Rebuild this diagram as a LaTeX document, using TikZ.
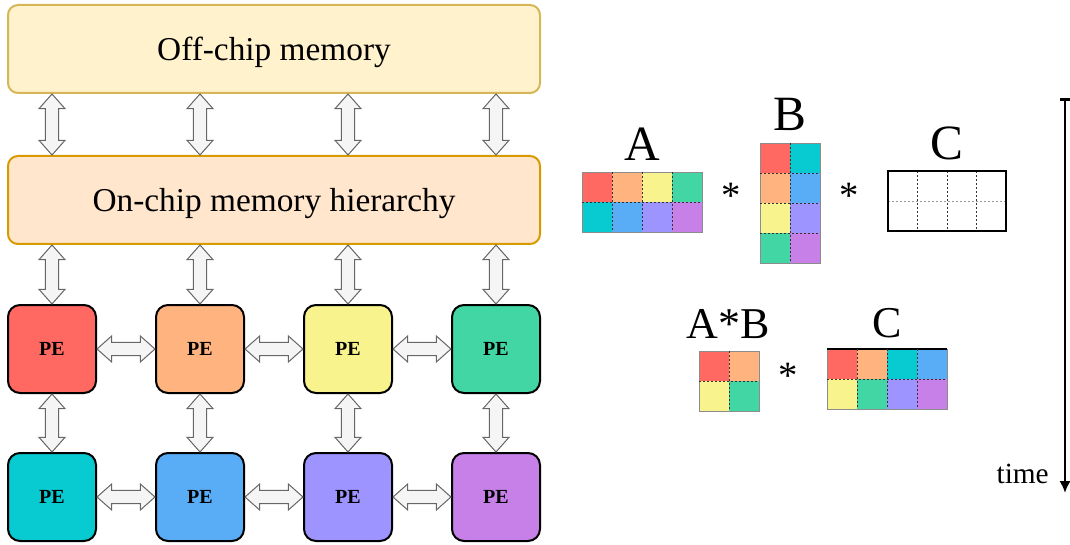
\documentclass[tikz,border=0pt]{standalone}
\usepackage{fontspec}
\setmainfont{Liberation Serif}
\usetikzlibrary{arrows.meta,calc}

% pastel palette for the processing elements and matrix tiles
\definecolor{pred}{HTML}{FF6961}
\definecolor{porange}{HTML}{FFB480}
\definecolor{pyellow}{HTML}{F8F38D}
\definecolor{pgreen}{HTML}{42D6A4}
\definecolor{pcyan}{HTML}{08CAD1}
\definecolor{pblue}{HTML}{59ADF6}
\definecolor{plavender}{HTML}{9D94FF}
\definecolor{ppurple}{HTML}{C780E8}
\definecolor{offfill}{HTML}{FFF2CC}
\definecolor{offdraw}{HTML}{D6B656}
\definecolor{onfill}{HTML}{FFE6CC}
\definecolor{ondraw}{HTML}{D79B00}
\definecolor{linkfill}{HTML}{F5F5F5}
\definecolor{linkdraw}{HTML}{666666}

\tikzset{
  membox/.style={rounded corners=7.5pt, line width=1.5pt, minimum width=399pt,
    minimum height=66pt, inner sep=0pt, outer sep=0.75pt,
    text height=20pt, text depth=2pt,
    font=\fontsize{25}{30}\selectfont},
  offchip/.style={membox, fill=offfill, draw=offdraw},
  onchip/.style={membox, fill=onfill, draw=ondraw},
  pebox/.style={draw=black, line width=1.5pt, rounded corners=9pt, minimum size=66pt,
    inner sep=0pt, outer sep=0.75pt, font=\bfseries\fontsize{15}{18}\selectfont},
  linkarrow/.style={fill=linkfill, draw=linkdraw, line width=0.75pt, line join=miter},
  celldash/.style={draw=black!80, line width=0.5pt, dash pattern=on 1.5pt off 1.5pt},
  ghostdash/.style={draw=black!40, line width=0.6pt, dash pattern=on 1.5pt off 1.5pt},
  tileframe/.style={draw=black!45, line width=0.6pt},
  bigletter/.style={font=\fontsize{37}{44}\selectfont, anchor=base, inner sep=0pt},
  midletter/.style={font=\fontsize{33}{40}\selectfont, anchor=base, inner sep=0pt},
  timesop/.style={font=\fontsize{29}{34}\selectfont, anchor=base, inner sep=0pt},
}

% hollow double-headed block arrow between two points
\def\headlen{11pt}
\def\headhalf{9.75pt}
\def\bodyhalf{5pt}
\newcommand\duplexlink[2]{%
  \draw[linkarrow] let \p1=(#1), \p2=(#2),
    \n1={veclen(\x2-\x1,\y2-\y1)}, \n2={atan2(\y2-\y1,\x2-\x1)} in
    [shift={(\p1)}, rotate=\n2]
    (0pt,0pt) -- (\headlen,\headhalf) -- (\headlen,\bodyhalf)
    -- ({\n1*1pt-\headlen},\bodyhalf) -- ({\n1*1pt-\headlen},\headhalf)
    -- ({\n1*1pt},0pt) -- ({\n1*1pt-\headlen},-\headhalf)
    -- ({\n1*1pt-\headlen},-\bodyhalf) -- (\headlen,-\bodyhalf)
    -- (\headlen,-\headhalf) -- cycle;}

\begin{document}
\begin{tikzpicture}[x=0.75pt, y=-0.75pt]
\useasboundingbox (0,0) rectangle (1070,545);

% memory levels
\node[offchip] (off) at (274,49) {Off-chip memory};
\node[onchip] (on) at (274,200) {On-chip memory hierarchy};

% processing element array
\node[pebox, fill=pred]      (pe11) at (52,349)  {PE};
\node[pebox, fill=porange]   (pe12) at (200,349) {PE};
\node[pebox, fill=pyellow]   (pe13) at (348,349) {PE};
\node[pebox, fill=pgreen]    (pe14) at (496,349) {PE};
\node[pebox, fill=pcyan]     (pe21) at (52,497)  {PE};
\node[pebox, fill=pblue]     (pe22) at (200,497) {PE};
\node[pebox, fill=plavender] (pe23) at (348,497) {PE};
\node[pebox, fill=ppurple]   (pe24) at (496,497) {PE};

% links between levels and between neighbouring PEs
\foreach \c in {1,2,3,4} {
  \duplexlink{off.south -| pe1\c}{on.north -| pe1\c}
  \duplexlink{on.south -| pe1\c}{pe1\c.north}
  \duplexlink{pe1\c.south}{pe2\c.north}
}
\foreach \r in {1,2} {
  \duplexlink{pe\r1.east}{pe\r2.west}
  \duplexlink{pe\r2.east}{pe\r3.west}
  \duplexlink{pe\r3.east}{pe\r4.west}
}

% ---- first step: A * B * C ----
\node[bigletter] (lblA) at (642,161) {A};
\foreach \col [count=\k from 0] in {pred,porange,pyellow,pgreen,pcyan,pblue,plavender,ppurple} {
  \pgfmathtruncatemacro\ci{mod(\k,4)}
  \pgfmathtruncatemacro\ri{div(\k,4)}
  \fill[\col] ({582+30*\ci},{172+30*\ri}) rectangle ++(30,30);
}
\draw[tileframe] (582,172) rectangle (702,232);
\foreach \xx in {612,642,672} \draw[celldash] (\xx,172) -- (\xx,232);
\draw[celldash] (582,202) -- (702,202);

\node[timesop] (op1) at (731,209) {*};

\node[bigletter] (lblB) at (790,131) {B};
\foreach \col [count=\k from 0] in {pred,pcyan,porange,pblue,pyellow,plavender,pgreen,ppurple} {
  \pgfmathtruncatemacro\ci{mod(\k,2)}
  \pgfmathtruncatemacro\ri{div(\k,2)}
  \fill[\col] ({760+30*\ci},{143+30*\ri}) rectangle ++(30,30);
}
\draw[tileframe] (760,143) rectangle (820,263);
\draw[celldash] (790,143) -- (790,263);
\foreach \yy in {173,203,233} \draw[celldash] (760,\yy) -- (820,\yy);

\node[timesop] (op2) at (849,209) {*};

\node[bigletter] (lblC) at (947,160) {C};
\draw[ghostdash] (888,201) -- (1006,201);
\foreach \xx in {917.5,947,976.5} \draw[celldash] (\xx,171) -- (\xx,231);
\draw[black, line width=1.2pt] (888,171) rectangle (1006,231);

% ---- second step: (A*B) * C ----
\node[midletter] (lblAB) at (728,338) {A*B};
\foreach \col [count=\k from 0] in {pred,porange,pyellow,pgreen} {
  \pgfmathtruncatemacro\ci{mod(\k,2)}
  \pgfmathtruncatemacro\ri{div(\k,2)}
  \fill[\col] ({699+30*\ci},{351+30*\ri}) rectangle ++(30,30);
}
\draw[tileframe] (699,351) rectangle (759,411);
\draw[celldash] (729,351) -- (729,411);
\draw[celldash] (699,381) -- (759,381);

\node[timesop] (op3) at (788,388) {*};

\node[midletter] (lblC2) at (887,337) {C};
\foreach \col [count=\k from 0] in {pred,porange,pcyan,pblue,pyellow,pgreen,plavender,ppurple} {
  \pgfmathtruncatemacro\ci{mod(\k,4)}
  \pgfmathtruncatemacro\ri{div(\k,4)}
  \fill[\col] ({827+30*\ci},{349+30*\ri}) rectangle ++(30,30);
}
\draw[tileframe] (827,349) rectangle (947,409);
\draw[black, line width=0.8pt] (827,349) -- (947,349);
\foreach \xx in {857,887,917} \draw[celldash] (\xx,349) -- (\xx,409);
\draw[celldash] (827,379) -- (947,379);

% time axis
\coordinate (tstart) at (1065,98);
\coordinate (tend) at (1065,493);
\draw[line width=1.9pt, {Bar[width=7pt]}-{Latex[length=9pt, width=8.5pt]}] (tstart) -- (tend);
\node[font=\fontsize{22}{26}\selectfont, anchor=base east, inner sep=0pt] (tlabel) at (1049,483) {time};
\end{tikzpicture}
\end{document}
